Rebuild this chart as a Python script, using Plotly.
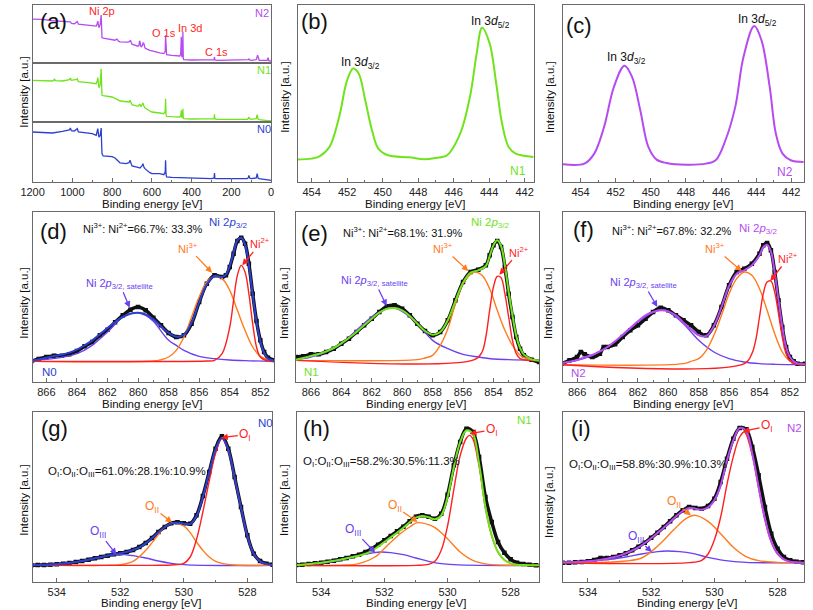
import plotly.graph_objects as go

W, H = 813, 610
def px(x): return x / W
def py(y): return 1 - y / H

C_N0 = "#2b3fd1"
C_N1 = "#6fe31c"
C_N2 = "#b54bf0"
C_RED = "#ff1f1f"
C_ORG = "#ff7b1c"
C_VIO = "#6b40f2"
C_DATA = "#111111"
FRAME = "#6a6a6a"
FONT = "Liberation Sans, Arial, sans-serif"

# ---------------- (a) survey spectra ----------------
sv_N0_x = [1200,1150,1100,1050,1015,1010,1005,990,978,975,970,930,900,880,875,872,868,866,860,857,855,853,851,845,800,785,780,775,760,730,715,710,705,700,670,660,650,645,640,635,610,600,560,540,533,531,529,526,500,450,400,300,287,285,283,270,120,114,112,108,100,75,70,66,60,30,0]
sv_N0_y = [150,149,147,152,156,162,154,153,158,160,150,147,145,140,150,160,140,135,140,160,162,120,85,78,76,72,67,66,57,55,58,65,56,48,44,42,48,55,45,40,28,25,25,22,30,65,25,15,14,13,12,10,12,27,11,10,10,14,20,12,10,12,25,12,10,8,5]
sv_N1_x = [1200,1150,1100,1092,1090,1086,1050,1015,1010,1005,990,978,975,970,930,900,880,875,872,868,866,860,857,855,853,851,845,800,785,780,775,760,730,715,710,705,700,670,662,660,655,648,645,640,635,610,600,560,540,533,531,529,526,500,460,455,452,450,448,446,444,442,440,400,300,287,285,283,270,120,114,112,108,100,75,70,66,60,30,0]
sv_N1_y = [125,124,123,126,130,124,123,127,132,125,126,128,130,121,119,117,115,124,133,112,103,112,155,160,118,80,79,75,71,70,68,63,60,60,65,58,52,47,53,52,46,53,57,48,43,33,30,27,25,32,70,24,17,16,15,18,35,16,13,17,40,12,10,9,8,10,23,9,8,8,11,15,10,8,10,22,9,7,5,3]
sv_N2_x = [1200,1150,1100,1080,1050,1015,1010,1005,1000,990,978,975,970,930,900,880,875,872,868,866,860,857,855,853,851,845,800,785,778,775,768,760,720,712,708,704,700,670,665,662,660,655,648,644,640,635,630,610,600,560,540,533,531,529,526,500,460,455,452,450,448,446,444,442,440,400,300,287,285,283,270,120,114,112,108,100,75,68,64,60,20,15,12,0]
sv_N2_y = [131,130,126,125,124,122,123,118,118,117,122,125,116,114,113,110,118,125,110,106,115,138,143,110,76,74,70,68,71,71,65,63,62,64,68,62,56,50,52,66,64,48,52,60,58,45,43,38,36,30,28,34,83,27,25,23,21,26,78,22,18,22,93,14,10,9,8,10,18,9,8,8,10,13,9,8,10,23,9,8,8,16,7,6]
survey_ticks = [1200, 1000, 800, 600, 400, 200, 0]

# ---------------- (b), (c) In 3d ----------------
b_x = [455,454,453.56,453.0,452.45,452.0,451.66,451.35,450.98,450.6,450.24,449.7,448.5,447.66,447.0,446.37,445.63,445.08,444.7,444.4,443.97,443.6,443.27,442.9,442.5,441.5]
b_y = [67,70,77,105,195,305,340,325,245,155,100,80,74,68,72,80,145,255,385,462,415,295,175,105,85,75]
c_x = [455,453.78,453.22,452.66,452.1,451.5,451.07,450.6,450.14,449.67,449.11,447.99,446.87,446.31,445.75,445.19,444.72,444.11,443.7,443.23,442.88,442.5,442.03,441.3]
c_y = [53,55,85,165,285,348,315,215,105,67,57,52,55,65,125,225,375,467,425,285,145,85,65,60]

# ---------------- (d) Ni 2p, N0 ----------------
d_x = [867,866.5,866,865.5,865,864.5,864,863.5,863,862.5,862,861.5,861,860.5,860,859.5,859,858.5,858,857.5,857,856.5,856,855.5,855,854.5,854.25,854,853.75,853.5,853.25,853,852.75,852.5,852.25,852,851.75,851.5,851]
d_data = [62,69,75,79,79,83,93,107,120,140,157,179,200,217,225,215,193,170,147,135,140,175,240,295,320,315,320,345,385,423,433,415,355,265,183,125,90,73,65]
d_fit = [62,68,73,78,82,88,97,110,125,143,162,180,195,205,208,203,188,167,147,136,142,178,240,293,318,315,322,348,388,425,433,413,350,262,180,122,88,70,63]
d_sat_x = [867,866,865,864,863,862,861,860.2,859.5,859,858,857.5,857,856,855,854,853,851]
d_sat = [65,68,74,85,110,150,195,208,200,182,125,110,95,77,70,66,64,62]
d_n3_x = [867,859,858.5,858,857.5,857,856.5,856,855.5,855,854.5,854,853.5,853,852.5,852,851.5,851]
d_n3 = [62,63,67,75,95,135,195,255,300,317,310,275,215,155,105,77,67,63]
d_n2_x = [867,855.5,855,854.5,854,853.75,853.5,853.25,853,852.75,852.5,852.25,852,851.5,851]
d_n2 = [62,63,65,85,165,245,320,350,330,265,175,105,75,63,62]

# ---------------- (e) Ni 2p, N1 ----------------
e_x = [867,866.5,866,865.5,865,864.5,864,863.5,863,862.5,862,861.5,861,860.5,860,859.5,859,858.5,858,857.5,857,856.5,856,855.5,855,854.5,854.25,854,853.75,853.5,853.25,853,852.75,852.5,852.25,852,851.5,851]
e_data = [75,77,83,83,90,100,115,130,150,170,190,210,227,230,220,200,175,153,140,150,185,245,300,330,337,350,380,410,423,405,345,265,195,135,100,80,67,60]
e_fit = [67,72,78,84,92,102,116,132,150,170,190,208,220,222,215,198,175,153,142,150,185,243,298,328,335,348,378,410,425,408,350,270,200,138,102,82,68,64]
e_sat_x = [867,866,865,864,863,862,861,860.5,860,859,858,857,856,855,854,853,851]
e_sat = [67,75,90,115,155,195,220,222,212,175,125,100,83,75,69,67,65]
e_n3_x = [867,859,858.5,858,857.5,857,856.5,856,855.5,855.2,854.75,854.25,853.75,853.25,852.75,852.25,851.75,851]
e_n3 = [65,67,72,80,110,160,235,295,323,330,320,280,215,155,110,80,69,65]
e_n2_x = [867,855.25,854.75,854.5,854.25,854,853.75,853.5,853.25,853,852.75,852.5,852.25,851.75,851]
e_n2 = [65,67,90,135,215,285,317,313,265,195,125,85,70,65,65]

# ---------------- (f) Ni 2p, N2 ----------------
f_x = [867,866.5,866,865.75,865.5,865,864.5,864.25,864,863.5,863,862.5,862,861.5,861,860.5,860,859.5,859,858.5,858,857.5,857,856.5,856,855.5,855,854.5,854,853.75,853.5,853.25,853,852.75,852.5,852.25,852,851.75,851.5,851]
f_data = [55,65,75,90,83,75,85,105,105,113,135,155,170,190,210,223,215,200,185,170,150,140,170,225,290,330,340,355,385,410,417,395,330,245,165,105,75,62,55,55]
f_fit = [57,61,66,70,74,81,92,98,105,122,142,162,182,200,210,215,212,200,178,158,140,138,168,225,288,325,335,350,380,405,412,392,328,245,165,105,75,62,56,53]
f_sat_x = [867,866,865,864,863,862,861,860.4,860,859,858,857,856,855,854,853,851]
f_sat = [57,65,80,105,140,180,210,217,212,175,125,90,70,60,55,53,52]
f_n3_x = [867,859,858.5,858,857.5,857,856.5,856,855.5,855,854.5,854,853.5,853,852.5,852,851.5,851]
f_n3 = [52,55,62,70,95,140,200,265,310,330,320,280,215,145,90,63,55,52]
f_n2_x = [867,855,854.5,854.25,854,853.75,853.5,853.25,853,852.75,852.5,852.25,852,851.5,851]
f_n2 = [52,55,85,125,195,265,300,303,270,205,135,85,63,53,52]

# ---------------- (g)-(i) O 1s ----------------
o_x = [535.0,534.8,534.6,534.4,534.2,534.0,533.8,533.6,533.4,533.2,533.0,532.8,532.6,532.4,532.2,532.0,531.8,531.6,531.4,531.2,531.0,530.8,530.6,530.4,530.2,530.0,529.8,529.6,529.4,529.2,529.0,528.8,528.6,528.4,528.2,528.0,527.8,527.6,527.4,527.2,527.0]

g_data = [50,50,51,51,52,53,55,57,60,63,67,71,75,79,83,86,90,96,105,117,132,150,165,176,179,176,175,200,258,330,400,437,400,315,225,140,85,63,55,52,50]
g_fit = [50,50,51,51,52,53,55,57,60,63,67,71,75,79,83,86,90,96,104,116,131,149,165,175,178,175,174,198,255,328,398,433,398,313,223,138,84,62,54,51,50]
g_oI_x = [535,531,530.4,530.0,529.8,529.6,529.4,529.2,529.0,528.8,528.6,528.4,528.2,528.0,527.8,527.6,527.4,527.0]
g_oI = [50,50,51,56,75,128,210,303,386,430,395,313,224,140,85,62,53,50]
g_oII_x = [535,532.5,532.0,531.6,531.2,530.9,530.6,530.3,530.0,529.8,529.6,529.4,529.2,529.0,528.8,528.4,527.0]
g_oII = [50,50,52,62,95,130,165,177,168,148,120,95,75,62,56,51,50]
g_oIII_x = [535,534,533.4,532.8,532.3,532.0,531.6,531.2,530.8,530.4,530.0,529.4,527.0]
g_oIII = [50,54,60,71,80,83,79,72,63,56,52,50,50]

h_data = [50,51,52,54,56,58,61,64,68,72,77,82,90,100,112,125,138,152,166,182,196,200,196,190,205,262,350,420,460,450,375,255,180,120,88,68,58,54,52,50,50]
h_fit = [50,51,52,54,56,58,61,64,67,71,75,79,85,93,106,120,134,148,163,179,193,198,194,188,200,255,345,420,455,445,355,225,140,90,66,56,52,51,50,50,50]
h_oI_x = [535,531.0,530.6,530.4,530.2,530.0,529.8,529.6,529.4,529.3,529.2,529.0,528.8,528.6,528.4,528.2,528.0,527.8,527.0]
h_oI = [50,50,53,62,95,168,278,379,432,440,430,347,221,138,89,66,56,52,50]
h_oII_x = [535,533.2,532.8,532.3,531.9,531.5,531.2,530.95,530.6,530.4,530.2,530.0,529.6,529.2,528.7,528.0,527.0]
h_oII = [50,51,55,75,110,145,165,178,172,163,148,130,90,65,53,50,50]
h_oIII_x = [535,534,533.4,532.8,532.4,532.1,531.8,531.4,531.0,530.6,530.2,529.8,529.0,527.0]
h_oIII = [50,56,66,80,87,90,88,82,72,62,55,52,50,50]

i_data = [58,58,58,59,60,62,66,72,72,75,80,86,95,106,118,133,148,165,182,200,215,225,222,220,228,250,300,370,430,462,458,405,320,225,145,100,75,65,61,59,58]
i_fit = [58,59,59,60,61,62,64,67,70,74,79,86,94,104,117,131,147,163,180,198,213,222,220,217,224,245,290,365,425,462,455,385,285,190,122,85,68,61,59,58,58]
i_oI_x = [535,530.8,530.4,530.2,530.0,529.8,529.6,529.4,529.2,529.05,528.8,528.6,528.4,528.2,528.0,527.8,527.6,527.0]
i_oI = [58,58,65,84,126,195,293,376,435,450,380,282,186,120,84,68,61,58]
i_oII_x = [535,533.2,532.8,532.3,531.8,531.3,530.9,530.6,530.2,529.8,529.4,529.0,528.6,528.0,527.0]
i_oII = [58,60,63,72,107,155,190,200,182,145,104,76,64,59,58]
i_oIII_x = [535,534,533.4,532.8,532.3,531.8,531.5,531.1,530.7,530.2,529.7,529.0,527.0]
i_oIII = [58,62,67,75,84,91,93,91,86,74,65,59,58]

# ---------------- layout helpers ----------------
layout = dict(width=W, height=H, margin=dict(l=0, r=0, t=0, b=0), autosize=False,
              paper_bgcolor="white", plot_bgcolor="white", showlegend=False,
              font=dict(family=FONT, size=11, color="#222"))
annotations = []
traces = []

def add_axes(n, xpx, ypx, xr, yr, dtick, minor, showx=True):
    xk = "xaxis" if n == 1 else f"xaxis{n}"
    yk = "yaxis" if n == 1 else f"yaxis{n}"
    xa = dict(domain=[px(xpx[0]), px(xpx[1])], range=xr, anchor=f"y{n}" if n > 1 else "y",
              showline=True, mirror=True, linecolor=FRAME, linewidth=1,
              showgrid=False, zeroline=False, fixedrange=True,
              tickfont=dict(family=FONT, size=11, color="#222"))
    if showx:
        xa.update(ticks="inside", ticklen=4, tickcolor=FRAME, dtick=dtick, tick0=0,
                  minor=dict(ticks="inside", ticklen=2, dtick=minor, tickcolor=FRAME),
                  showticklabels=True)
    else:
        xa.update(ticks="", showticklabels=False)
    ya = dict(domain=[py(ypx[1]), py(ypx[0])], range=yr, anchor=f"x{n}" if n > 1 else "x",
              showline=True, mirror=True, linecolor=FRAME, linewidth=1,
              showgrid=False, zeroline=False, ticks="", showticklabels=False, fixedrange=True)
    layout[xk] = xa
    layout[yk] = ya

def ax_ref(n):
    return ("x" if n == 1 else f"x{n}"), ("y" if n == 1 else f"y{n}")

def line(n, x, y, color, width=1.5, shape="spline"):
    xr, yr = ax_ref(n)
    traces.append(go.Scatter(x=x, y=y, mode="lines", xaxis=xr, yaxis=yr,
                             line=dict(color=color, width=width, shape=shape, smoothing=1.0),
                             hoverinfo="skip"))

def data(n, x, y):
    xr, yr = ax_ref(n)
    traces.append(go.Scatter(x=x, y=y, mode="lines+markers", xaxis=xr, yaxis=yr,
                             line=dict(color=C_DATA, width=3.5, shape="spline"),
                             marker=dict(symbol="square", size=4.5, color=C_DATA),
                             hoverinfo="skip"))

def text(xp, yp, s, size=11, color="#111", xanchor="center"):
    annotations.append(dict(x=px(xp), y=py(yp), xref="paper", yref="paper", text=s,
                            showarrow=False, xanchor=xanchor, yanchor="middle",
                            font=dict(family=FONT, size=size, color=color)))

def arrow(n, x, y, ax, ay, s, color, size=11):
    xr, yr = ax_ref(n)
    annotations.append(dict(x=x, y=y, xref=xr, yref=yr, text=s, showarrow=True,
                            ax=ax, ay=ay, arrowhead=2, arrowsize=1, arrowwidth=1.3,
                            arrowcolor=color, standoff=0,
                            font=dict(family=FONT, size=size, color=color)))

# ---------------- axes ----------------
add_axes(1, (21, 264), (5, 63), [1200, 0], [0, 173], 200, 100, showx=False)   # N2
add_axes(2, (21, 264), (63, 122), [1200, 0], [0, 177], 200, 100, showx=False) # N1
add_axes(3, (21, 264), (122, 182), [1200, 0], [0, 180], 200, 100, showx=True) # N0
add_axes(4, (291, 532), (5, 182), [454.79, 441.46], [0, 530], 2, 1)
add_axes(5, (561, 807), (5, 182), [455.02, 441.27], [0, 530], 2, 1)
add_axes(6, (21, 267), (212, 382), [866.9, 851.1], [0, 510], 2, 1)
add_axes(7, (289, 537), (212, 382), [867.0, 851.0], [0, 510], 2, 1)
add_axes(8, (561, 808), (212, 382), [866.95, 851.0], [0, 510], 2, 1)
add_axes(9, (21, 265), (412, 582), [534.76, 527.22], [0, 510], 2, 1)
add_axes(10, (290, 537), (412, 582), [534.78, 527.1], [0, 510], 2, 1)
add_axes(11, (561, 807), (412, 582), [534.8, 527.16], [0, 510], 2, 1)
layout["xaxis3"]["tickvals"] = survey_ticks
layout["xaxis3"].pop("dtick", None)

# ---------------- traces ----------------
line(1, sv_N2_x, sv_N2_y, C_N2, 1.3, "linear")
line(2, sv_N1_x, sv_N1_y, C_N1, 1.3, "linear")
line(3, sv_N0_x, sv_N0_y, C_N0, 1.3, "linear")
line(4, b_x, b_y, C_N1, 2)
line(5, c_x, c_y, C_N2, 2)

for n, x, dd, ff, sx, s, n3x, n3, n2x, n2, col in [
        (6, d_x, d_data, d_fit, d_sat_x, d_sat, d_n3_x, d_n3, d_n2_x, d_n2, C_N0),
        (7, e_x, e_data, e_fit, e_sat_x, e_sat, e_n3_x, e_n3, e_n2_x, e_n2, C_N1),
        (8, f_x, f_data, f_fit, f_sat_x, f_sat, f_n3_x, f_n3, f_n2_x, f_n2, C_N2)]:
    data(n, x, dd)
    line(n, sx, s, C_VIO, 1.4)
    line(n, n3x, n3, C_ORG, 1.4)
    line(n, n2x, n2, C_RED, 1.4)
    line(n, x, ff, col, 2)

for n, dd, ff, ix, iy, iix, iiy, iiix, iiiy, col in [
        (9, g_data, g_fit, g_oI_x, g_oI, g_oII_x, g_oII, g_oIII_x, g_oIII, C_N0),
        (10, h_data, h_fit, h_oI_x, h_oI, h_oII_x, h_oII, h_oIII_x, h_oIII, C_N1),
        (11, i_data, i_fit, i_oI_x, i_oI, i_oII_x, i_oII, i_oIII_x, i_oIII, C_N2)]:
    data(n, o_x, dd)
    line(n, iiix, iiiy, C_VIO, 1.4)
    line(n, iix, iiy, C_ORG, 1.4)
    line(n, ix, iy, C_RED, 1.4)
    line(n, o_x, ff, col, 2)

# ---------------- texts ----------------
YT = "Intensity [a.u.]"
XT = "Binding energy [eV]"
for xp, yp in [(12, 92), (278, 97), (548, 97), (12, 303), (277, 303), (546, 303), (12, 500), (277, 500), (547, 502)]:
    annotations.append(dict(x=px(xp), y=py(yp), xref="paper", yref="paper", text=YT, showarrow=False,
                            textangle=-90, xanchor="center", yanchor="middle",
                            font=dict(family=FONT, size=11.5, color="#111")))
for xp, yp in [(143, 204), (411, 204), (684, 204), (143, 404), (412, 404), (684, 404), (142, 603), (412, 603), (688, 603)]:
    text(xp, yp, XT, 11.5)

# panel letters
for s, xp, yp in [("(a)", 42, 22), ("(b)", 308, 22), ("(c)", 578, 25), ("(d)", 42, 232), ("(e)", 308, 233),
                  ("(f)", 582, 230), ("(g)", 43, 428), ("(h)", 310, 428), ("(i)", 580, 428)]:
    text(xp, yp, s, 22, "#111")

# (a)
text(92, 11, "Ni 2p", 11, C_RED)
text(155, 33, "O 1s", 11, C_RED)
text(181, 28, "In 3d", 11, C_RED)
text(208, 52, "C 1s", 11, C_RED)
text(255, 13, "N2", 11, C_N2)
text(257, 70, "N1", 11, C_N1)
text(257, 129, "N0", 11, C_N0)

# (b), (c)
text(355, 63, "In 3<i>d</i><sub>3/2</sub>", 12)
text(488, 22, "In 3<i>d</i><sub>5/2</sub>", 12)
text(516, 171, "N1", 12, C_N1)
text(626, 58, "In 3<i>d</i><sub>3/2</sub>", 12)
text(760, 20, "In 3<i>d</i><sub>5/2</sub>", 12)
text(788, 172, "N2", 12, C_N2)

# (d)-(f)
SAT = "Ni 2<i>p</i><sub>3/2, satellite</sub>"
P32 = "Ni 2<i>p</i><sub>3/2</sub>"
text(133, 228, "Ni<sup>3+</sup>: Ni<sup>2+</sup>=66.7%: 33.3%", 11)
text(221, 223, P32, 11.5, C_N0)
text(38, 372, "N0", 11.5, C_N0)
arrow(6, 860.55, 223, -10, -24, SAT, C_VIO)
arrow(6, 855.16, 328, -24, -25, "Ni<sup>3+</sup>", C_ORG)
arrow(6, 853.18, 350, 18, -22, "Ni<sup>2+</sup>", C_RED)

text(398, 232, "Ni<sup>3+</sup>: Ni<sup>2+</sup>=68.1%: 31.9%", 11)
text(488, 223, P32, 11.5, C_N1)
text(305, 372, "N1", 11.5, C_N1)
arrow(7, 861.02, 228, -12, -25, SAT, C_VIO)
arrow(7, 855.65, 333, -25, -23, "Ni<sup>3+</sup>", C_ORG)
arrow(7, 853.61, 322, 20, -23, "Ni<sup>2+</sup>", C_RED)

text(672, 230, "Ni<sup>3+</sup>: Ni<sup>2+</sup>=67.8%: 32.2%", 11)
text(761, 229, P32, 11.5, C_N2)
text(577, 373, "N2", 11.5, C_N2)
arrow(8, 860.72, 225, -14, -24, SAT, C_VIO)
arrow(8, 855.17, 333, -27, -23, "Ni<sup>3+</sup>", C_ORG)
arrow(8, 853.29, 303, 18, -23, "Ni<sup>2+</sup>", C_RED)

# (g)-(i)
text(35, 472, "O<sub>I</sub>:O<sub>II</sub>:O<sub>III</sub>=61.0%:28.1%:10.9%", 11.5, xanchor="left")
text(258, 423, "N0", 11.5, C_N0)
arrow(9, 528.82, 433, 24, -3, "O<sub>I</sub>", C_RED, 12)
arrow(9, 530.37, 178, -20, -16, "O<sub>II</sub>", C_ORG, 12)
arrow(9, 532.12, 82, -18, -23, "O<sub>III</sub>", C_VIO, 12)

text(294, 462, "O<sub>I</sub>:O<sub>II</sub>:O<sub>III</sub>=58.2%:30.5%:11.3%", 11.5, xanchor="left")
text(522, 420, "N1", 11.5, C_N1)
arrow(10, 529.29, 445, 22, -4, "O<sub>I</sub>", C_RED, 12)
arrow(10, 530.95, 180, -23, -16, "O<sub>II</sub>", C_ORG, 12)
arrow(10, 532.29, 88, -22, -23, "O<sub>III</sub>", C_VIO, 12)

text(565, 465, "O<sub>I</sub>:O<sub>II</sub>:O<sub>III</sub>=58.8%:30.9%:10.3%", 11.5, xanchor="left")
text(797, 428, "N2", 11.5, C_N2)
arrow(11, 529.09, 452, 24, -5, "O<sub>I</sub>", C_RED, 12)
arrow(11, 530.74, 200, -17, -13, "O<sub>II</sub>", C_ORG, 12)
arrow(11, 531.98, 90, -16, -15, "O<sub>III</sub>", C_VIO, 12)

layout["annotations"] = annotations
fig = go.Figure(data=traces, layout=layout)
fig.write_html("out.html")
